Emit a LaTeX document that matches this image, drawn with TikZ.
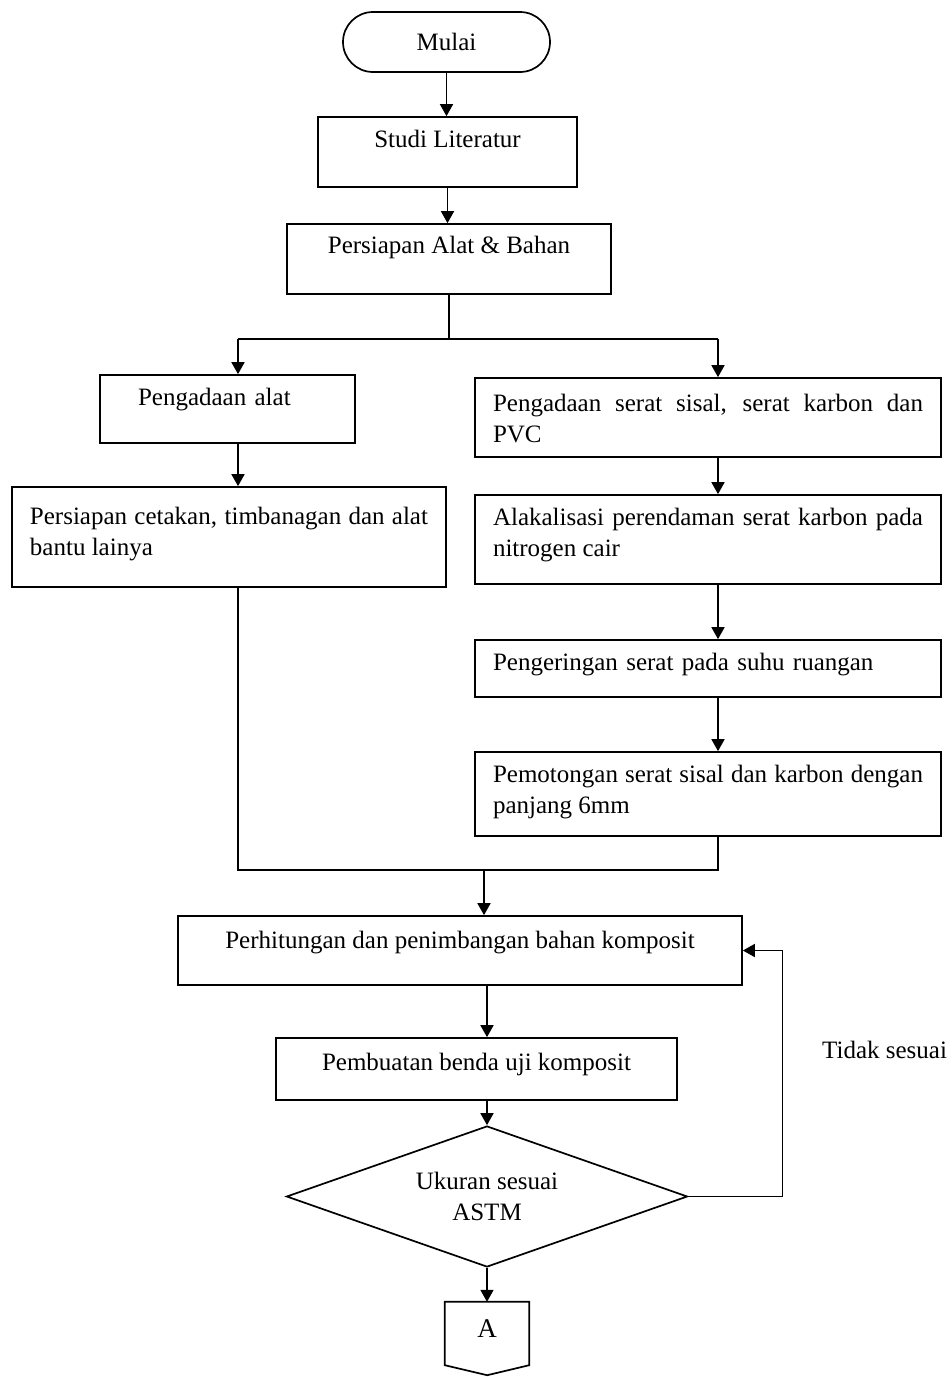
\documentclass[tikz,border=0pt]{standalone}
\usepackage{fontspec}
\setmainfont{Liberation Serif}
\usetikzlibrary{arrows.meta}
\usetikzlibrary{shapes.geometric}
\hyphenpenalty=10000
\exhyphenpenalty=10000

\begin{document}
\begin{tikzpicture}[x=1pt,y=-1pt]
    \tikzstyle{every node}=[font=\fontsize{25}{31}\selectfont]
    \tikzstyle{proses}=[draw,line width=1.7pt,inner ysep=0pt,inner xsep=18pt]
    \tikzstyle{garis}=[line width=1.7pt]
    \tikzstyle{panah}=[line width=1.7pt,-{Triangle[length=12pt,width=13pt]}]

    \useasboundingbox (0,0) rectangle (952,1377);

    % start and first steps
    \node[proses,rounded corners=30pt,minimum width=207pt,text height=38pt,text depth=22pt] (mulai) at (446.5,42) {Mulai};
    \node[proses,minimum width=259pt,text height=30pt,text depth=40pt] (studi) at (447.5,152) {Studi Literatur};
    \node[proses,minimum width=324pt,text height=29pt,text depth=41pt] (bahan) at (449,259) {Persiapan Alat \& Bahan};

    % left branch
    \node[proses,inner xsep=38pt,text width=179pt,align=left,text height=30pt,text depth=38pt] (alat) at (227.5,409) {Pengadaan alat};
    \node[proses,text width=398pt,align=justify,text height=37pt,text depth=63pt] (cetakan) at (229,537) {Persiapan cetakan, timbanagan dan alat bantu lainya};

    % right branch
    \node[proses,text width=430pt,align=justify,text height=33pt,text depth=46pt] (serat) at (708,417.5) {Pengadaan serat sisal, serat karbon dan PVC};
    \node[proses,text width=430pt,align=justify,text height=30pt,text depth=59pt] (alkali) at (708,539.5) {Alakalisasi perendaman serat karbon pada nitrogen cair};
    \node[proses,text width=430pt,align=left,text height=30pt,text depth=27pt] (kering) at (708,668.5) {Pengeringan serat pada suhu ruangan};
    \node[proses,text width=430pt,align=justify,text height=30pt,text depth=54pt] (potong) at (708,794) {Pemotongan serat sisal dan karbon dengan panjang 6mm};

    % bottom part
    \node[proses,minimum width=564pt,text height=32pt,text depth=37pt] (hitung) at (460,950.5) {Perhitungan dan penimbangan bahan komposit};
    \node[proses,minimum width=401pt,text height=32pt,text depth=30pt] (uji) at (476.5,1069) {Pembuatan benda uji komposit};
    \node[draw,diamond,shape aspect=2.84,line width=1.7pt,minimum width=401pt,minimum height=141pt,inner sep=0pt,align=center] (cek) at (487,1196.5) {Ukuran sesuai\\ASTM};
    \node[inner sep=0pt,minimum width=84pt,minimum height=63pt,text height=17pt,text depth=10pt,font=\fontsize{27}{31}\selectfont] (konektor) at (487,1333.5) {A};
    \draw[garis] (konektor.north west) -- (konektor.north east) -- (konektor.south east)
        -- ++(-42,10) -- (konektor.south west) -- cycle;
    \node[anchor=base west,inner sep=0pt] (tidak) at (822,1058) {Tidak sesuai};

    % columns of the arrows
    \coordinate (kiri) at (238,0);
    \coordinate (kanan) at (718,0);
    \coordinate (tengah) at (487,0);

    % connectors
    \draw[panah] (mulai.south) -- (mulai.south |- studi.north);
    \draw[panah] (studi.south) -- (studi.south |- bahan.north);
    \draw[garis] (bahan.south) -- ++(0,44) coordinate (cabang);
    \draw[garis] (kiri |- cabang) -- (kanan |- cabang);
    \draw[panah] (kiri |- cabang) -- (kiri |- alat.north);
    \draw[panah] (kanan |- cabang) -- (kanan |- serat.north);
    \draw[panah] (kiri |- alat.south) -- (kiri |- cetakan.north);
    \draw[panah] (kanan |- serat.south) -- (kanan |- alkali.north);
    \draw[panah] (kanan |- alkali.south) -- (kanan |- kering.north);
    \draw[panah] (kanan |- kering.south) -- (kanan |- potong.north);

    % merge of both branches
    \coordinate (gabung) at (484,870);
    \draw[garis] (kiri |- cetakan.south) -- (kiri |- gabung) -- (kanan |- gabung) -- (kanan |- potong.south);
    \draw[panah] (gabung) -- (gabung |- hitung.north);
    \draw[panah] (tengah |- hitung.south) -- (tengah |- uji.north);
    \draw[panah] (tengah |- uji.south) -- (cek.north);
    \draw[panah] (cek.south) -- (konektor.north);

    % back to the weighing step
    \draw[panah] (cek.east) -- ++(94,0) |- (hitung.east);
\end{tikzpicture}
\end{document}
